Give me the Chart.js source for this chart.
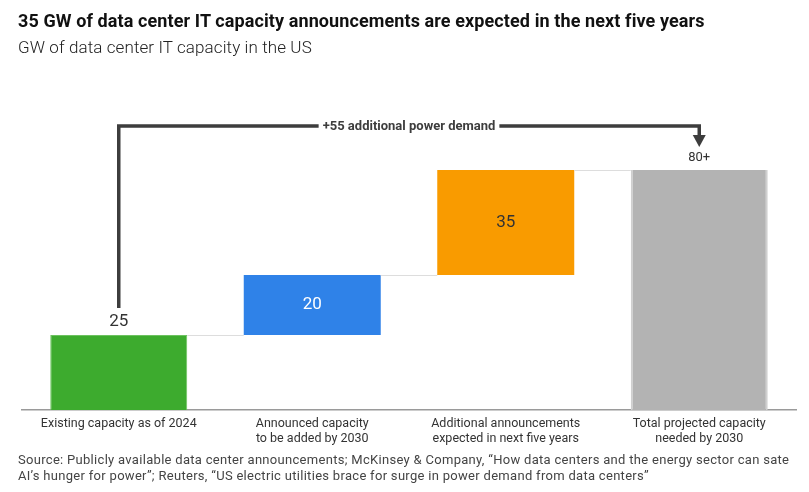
<!DOCTYPE html>
<html>
<head>
<meta charset="utf-8">
<script src="https://cdn.jsdelivr.net/npm/chart.js@4.4.1/dist/chart.umd.min.js"></script>
<style>
    html, body { margin: 0; padding: 0; background: #fff; }
    body { width: 809px; height: 492px; position: relative; overflow: hidden; font-family: Roboto, "Noto Sans", sans-serif; }
    #title { position: absolute; left: 18px; top: 10px; font-size: 18px; font-weight: bold; color: #111; letter-spacing: 0.1px; }
    #subtitle { position: absolute; left: 18px; top: 37px; font-size: 17px; font-weight: 300; color: #222; letter-spacing: 0.1px; }
    #source { position: absolute; left: 18px; top: 452px; font-size: 13px; line-height: 16px; color: #444; letter-spacing: 0.3px; }
    #chartWrap { position: absolute; left: 0; top: 0; width: 809px; height: 492px; }
</style>
</head>
<body>
<div id="chartWrap"><canvas id="capacityChart" width="809" height="492"></canvas></div>
<div id="title">35 GW of data center IT capacity announcements are expected in the next five years</div>
<div id="subtitle">GW of data center IT capacity in the US</div>
<div id="source">Source: Publicly available data center announcements; McKinsey &amp; Company, “How data centers and the energy sector can sate<br>AI’s hunger for power”; Reuters, “US electric utilities brace for surge in power demand from data centers”</div>

<script>
// Waterfall data (GW)
const categories = [
    ['Existing capacity as of 2024'],
    ['Announced capacity', 'to be added by 2030'],
    ['Additional announcements', 'expected in next five years'],
    ['Total projected capacity', 'needed by 2030']
];
const steps = [25, 20, 35];       // green, blue, orange increments
const totalValue = 80;             // gray total bar
const valueLabels = ['25', '20', '35', '80+'];
const barColors = ['#3dab2e', '#2f82e8', '#f99b00', '#b3b3b3'];
const edgeColors = ['#6cc25f', '#2f82e8', '#f99b00', '#cfcfcf'];

// build floating ranges [start, end]
function buildRanges() {
    const ranges = [];
    let running = 0;
    steps.forEach(v => {
        ranges.push([running, running + v]);
        running += v;
    });
    ranges.push([0, totalValue]);
    return ranges;
}
const ranges = buildRanges();

const labelFont = 'Roboto, "Noto Sans", sans-serif';

// thin connectors between bar tops
const connectorPlugin = {
    id: 'connectors',
    afterDatasetsDraw(chart) {
        const ctx = chart.ctx;
        const bars = chart.getDatasetMeta(0).data;
        const y = chart.scales.y;
        ctx.save();
        ctx.strokeStyle = '#dddddd';
        ctx.lineWidth = 1;
        for (let i = 0; i < bars.length - 1; i++) {
            const level = ranges[i][1];
            const py = Math.round(y.getPixelForValue(level)) + 0.5;
            ctx.beginPath();
            ctx.moveTo(bars[i].x + bars[i].width / 2, py);
            ctx.lineTo(bars[i + 1].x - bars[i + 1].width / 2, py);
            ctx.stroke();
        }
        ctx.restore();
    }
};

// value labels
const valueLabelPlugin = {
    id: 'valueLabels',
    afterDatasetsDraw(chart) {
        const ctx = chart.ctx;
        const bars = chart.getDatasetMeta(0).data;
        const y = chart.scales.y;
        ctx.save();
        ctx.textAlign = 'center';
        ctx.textBaseline = 'middle';
        bars.forEach((bar, i) => {
            const top = y.getPixelForValue(ranges[i][1]);
            const bottom = y.getPixelForValue(ranges[i][0]);
            if (i === 0) {
                ctx.font = '17px ' + labelFont;
                ctx.fillStyle = '#333';
                ctx.fillText(valueLabels[i], bar.x, top - 13);
            } else if (i === 3) {
                ctx.font = '13px ' + labelFont;
                ctx.fillStyle = '#333';
                ctx.fillText(valueLabels[i], bar.x, top - 12);
            } else {
                ctx.font = '17px ' + labelFont;
                ctx.fillStyle = i === 1 ? '#ffffff' : '#333';
                ctx.fillText(valueLabels[i], bar.x, (top + bottom) / 2);
            }
        });
        ctx.restore();
    }
};

// bracket arrow from first bar to total bar
const bracketPlugin = {
    id: 'bracket',
    afterDatasetsDraw(chart) {
        const ctx = chart.ctx;
        const x = chart.scales.x;
        const y = chart.scales.y;
        const x0 = x.getPixelForValue(0);
        const x1 = x.getPixelForValue(3);
        const yStart = y.getPixelForValue(ranges[0][1] + 9);
        const yTop = y.getPixelForValue(94.7);
        const yTip = y.getPixelForValue(totalValue + 7.7);
        const added = steps[1] + steps[2];
        const text = '+' + added + ' additional power demand';

        ctx.save();
        ctx.font = 'bold 13px ' + labelFont;
        const tw = ctx.measureText(text).width;
        const mid = (x0 + x1) / 2;
        const gap = tw / 2 + 4;

        ctx.strokeStyle = '#3d3d3d';
        ctx.lineWidth = 3.5;
        ctx.lineJoin = 'miter';
        ctx.beginPath();
        ctx.moveTo(x0, yStart);
        ctx.lineTo(x0, yTop);
        ctx.lineTo(mid - gap, yTop);
        ctx.stroke();

        ctx.beginPath();
        ctx.moveTo(mid + gap, yTop);
        ctx.lineTo(x1, yTop);
        ctx.lineTo(x1, yTip - 11);
        ctx.stroke();

        ctx.fillStyle = '#3d3d3d';
        ctx.beginPath();
        ctx.moveTo(x1 - 6.5, yTip - 12);
        ctx.lineTo(x1 + 6.5, yTip - 12);
        ctx.lineTo(x1, yTip);
        ctx.closePath();
        ctx.fill();

        ctx.textAlign = 'center';
        ctx.textBaseline = 'middle';
        ctx.fillStyle = '#3d3d3d';
        ctx.fillText(text, mid, yTop + 0.5);
        ctx.restore();
    }
};

const ctx = document.getElementById('capacityChart').getContext('2d');
new Chart(ctx, {
    type: 'bar',
    data: {
        labels: categories,
        datasets: [{
            data: ranges,
            backgroundColor: barColors,
            borderColor: edgeColors,
            borderWidth: [
                { left: 1, right: 1, top: 1, bottom: 0 },
                0,
                0,
                { left: 2, right: 2, top: 0, bottom: 0 }
            ],
            borderSkipped: false,
            barPercentage: 0.708,
            categoryPercentage: 1
        }]
    },
    options: {
        responsive: false,
        animation: false,
        devicePixelRatio: 1,
        layout: {
            padding: { left: 22, right: 13, top: 110, bottom: 42 }
        },
        plugins: {
            legend: { display: false },
            tooltip: { enabled: false }
        },
        scales: {
            x: {
                grid: { display: false },
                border: { display: true, color: '#9a9a9a', width: 1.5 },
                ticks: {
                    color: '#333',
                    font: { family: labelFont, size: 12.5 },
                    padding: -2,
                    maxRotation: 0,
                    autoSkip: false
                },
                afterFit(scale) {
                    scale.height = 40;
                }
            },
            y: {
                display: false,
                min: 0,
                max: 100
            }
        }
    },
    plugins: [connectorPlugin, valueLabelPlugin, bracketPlugin]
});
</script>
</body>
</html>
